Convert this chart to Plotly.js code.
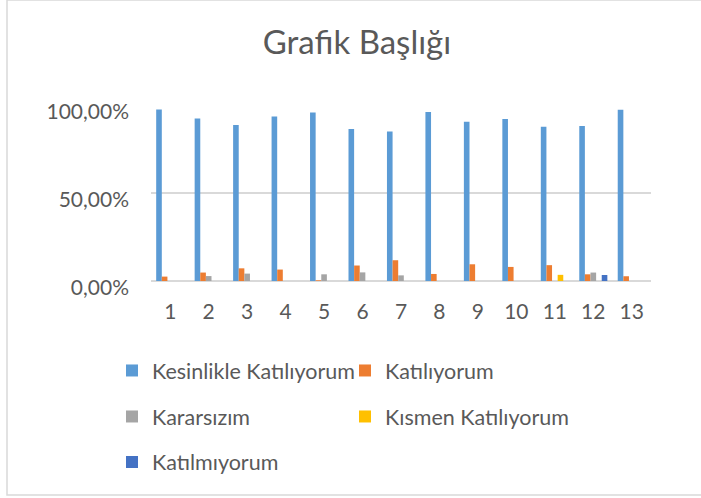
<!DOCTYPE html>
<html>
<head>
<meta charset="utf-8">
<script src="https://cdn.plot.ly/plotly-3.0.1.min.js"></script>
<style>html,body{margin:0;padding:0;background:#fff;}#chart{width:701px;height:498px;}</style>
</head>
<body>
<div id="chart"></div>
<script>
const categories = ["1","2","3","4","5","6","7","8","9","10","11","12","13"];
const seriesNames = ["Kesinlikle Katılıyorum","Katılıyorum","Kararsızım","Kısmen Katılıyorum","Katılmıyorum"];
const kesinlikleKatiliyorum = [0.975,0.924,0.886,0.935,0.958,0.863,0.850,0.960,0.905,0.920,0.876,0.880,0.973];
const katiliyorum = [0.025,0.048,0.072,0.065,0.004,0.088,0.118,0.040,0.095,0.080,0.090,0.038,0.027];
const kararsizim = [0,0.028,0.042,0,0.038,0.049,0.032,0,0,0,0,0.048,0];
const kismenKatiliyorum = [0,0,0,0,0,0,0,0,0,0,0.035,0,0];
const katilmiyorum = [0,0,0,0,0,0,0,0,0,0,0,0.034,0];
const colors = ["#5B9BD5","#ED7D31","#A5A5A5","#FFC000","#4472C4"];
const legendIds = ["legend","legend","legend2","legend2","legend3"];

const values = [kesinlikleKatiliyorum,katiliyorum,kararsizim,kismenKatiliyorum,katilmiyorum];
const traces = values.map((v,i)=>({
  type:"bar", x:categories, y:v, name:seriesNames[i],
  marker:{color:colors[i]}, legend:legendIds[i], hoverinfo:"skip"
}));

const W=701,H=498,L=151,R=50,T=105,B=217;
const pw=W-L-R, ph=H-T-B;
const px=v=>(v-L)/pw, py=v=>(H-B-v)/ph;
const font="Lato, 'Open Sans', sans-serif";
const txt="#595959";
const legCommon = {orientation:"h", xref:"paper", yref:"paper", yanchor:"middle", xanchor:"left",
  font:{family:font,size:21.5,color:txt}, entrywidth:188, entrywidthmode:"pixels", bgcolor:"rgba(0,0,0,0)", itemclick:false};

const layout = {
  width:W, height:H, margin:{l:L,r:R,t:T,b:B},
  paper_bgcolor:"#fff", plot_bgcolor:"#fff",
  separators:",.",
  barmode:"group", bargap:0.27, bargroupgap:0,
  title:{text:"Grafik Başlığı", font:{family:font,size:33,color:txt}, xref:"container", yref:"container", x:357/W, xanchor:"center", y:1-42/H, yanchor:"middle"},
  xaxis:{type:"category", showgrid:false, zeroline:false, showline:false, ticks:"", tickfont:{family:font,size:21,color:txt}, ticklabelstandoff:16, fixedrange:true},
  yaxis:{range:[0,1], dtick:0.5, tick0:0, tickformat:".2%", showgrid:true, gridcolor:"#d9d9d9", gridwidth:1.5, zeroline:true, zerolinecolor:"#d9d9d9", zerolinewidth:1.5, showline:false, ticks:"", tickfont:{family:font,size:21,color:txt}, ticklabelstandoff:21, ticklabelshift:7, fixedrange:true},
  showlegend:true,
  legend:Object.assign({}, legCommon, {x:px(112), y:py(370.5)}),
  legend2:Object.assign({}, legCommon, {x:px(112), y:py(416.5)}),
  legend3:Object.assign({}, legCommon, {x:px(112), y:py(462)}),
  shapes:[{type:"rect", xref:"paper", yref:"paper", x0:px(7), x1:px(706), y0:py(495), y1:py(0), line:{color:"#d9d9d9", width:1.5}, fillcolor:"rgba(0,0,0,0)", layer:"below"}]
};
Plotly.newPlot("chart", traces, layout, {displayModeBar:false, staticPlot:true});
</script>
</body>
</html>
